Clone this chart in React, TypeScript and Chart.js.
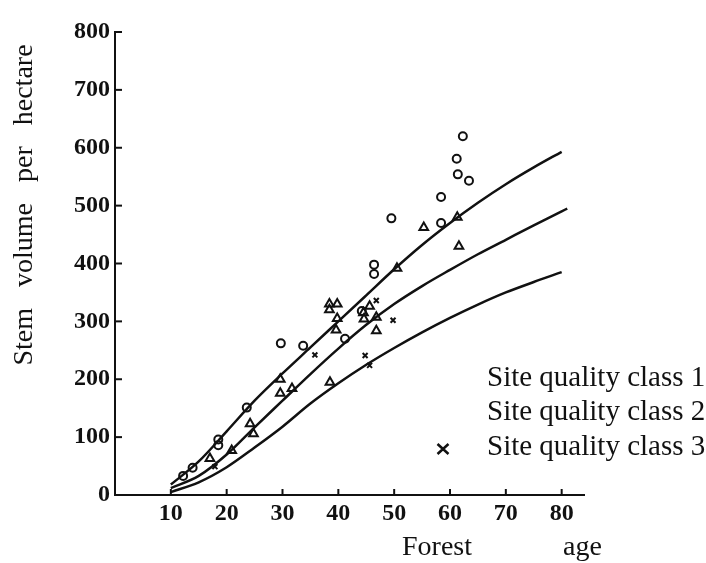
import React, { useEffect, useRef } from "react";
import { Chart, registerables } from "chart.js";

Chart.register(...registerables);

// ---------- data ----------
const xTickValues = [10, 20, 30, 40, 50, 60, 70, 80];
const yTickValues = [0, 100, 200, 300, 400, 500, 600, 700, 800];

const curveAges = [10, 15, 20, 25, 30, 35, 40, 45, 50, 55, 60, 65, 70, 75, 80];
const class1Curve = [18, 58, 110, 163, 210, 255, 300, 345, 390, 432, 470, 505, 537, 566, 593];
const class2Ages = [10, 15, 20, 25, 30, 35, 40, 45, 50, 55, 60, 65, 70, 75, 80, 81];
const class2Curve = [12, 33, 70, 117, 163, 209, 253, 294, 330, 361, 389, 416, 441, 466, 490, 495];
const class3Curve = [5, 22, 48, 82, 118, 158, 193, 225, 254, 281, 306, 329, 350, 368, 385];

const class1Ages = [12.2, 13.9, 18.5, 18.5, 23.6, 29.7, 33.7, 41.2, 44.2, 46.4, 46.4, 49.5, 58.4, 58.4, 61.2, 61.4, 62.3, 63.4];
const class1Vol = [33, 47, 96, 86, 151, 262, 258, 270, 318, 398, 382, 478, 515, 470, 581, 554, 620, 543];

const class2PtAges = [17, 20.9, 24.2, 24.8, 29.6, 29.6, 31.7, 38.4, 39.8, 38.4, 39.8, 39.6, 38.5, 44.6, 44.5, 45.6, 46.8, 46.8, 50.5, 55.3, 61.3, 61.6];
const class2PtVol = [63, 77, 123, 106, 200, 176, 184, 330, 330, 320, 305, 285, 195, 304, 315, 326, 307, 284, 392, 462, 480, 430];

const class3PtAges = [17.9, 35.8, 44.8, 45.6, 46.8, 49.8];
const class3PtVol = [49, 242, 241, 224, 336, 302];

const legendLabels = ["Site quality class 1", "Site quality class 2", "Site quality class 3"];
const xTitle = "Forest             age";
const yTitle = "Stem   volume   per   hectare";

const toPts = (xs: number[], ys: number[]) => xs.map((x, i) => ({ x, y: ys[i] }));

const SERIF = '"Liberation Serif", "Times New Roman", serif';

const decorPlugin = {
  id: "decor",
  afterDraw(chart: any) {
    const { ctx, scales, chartArea } = chart;
    const x = scales.x;
    const y = scales.y;
    ctx.save();
    ctx.strokeStyle = "#111";
    ctx.lineWidth = 2;
    xTickValues.forEach((v) => {
      const px = x.getPixelForValue(v);
      ctx.beginPath();
      ctx.moveTo(px, chartArea.bottom);
      ctx.lineTo(px, chartArea.bottom - 6);
      ctx.stroke();
    });
    yTickValues
      .filter((v) => v > 0)
      .forEach((v) => {
        const py = y.getPixelForValue(v);
        ctx.beginPath();
        ctx.moveTo(chartArea.left, py);
        ctx.lineTo(chartArea.left + 7, py);
        ctx.stroke();
      });

    ctx.fillStyle = "#111";
    ctx.font = "28px " + SERIF;
    ctx.textBaseline = "middle";
    ctx.textAlign = "left";
    ctx.fillText(xTitle, 402, 548);

    ctx.save();
    ctx.translate(25, 205);
    ctx.rotate(-Math.PI / 2);
    ctx.textAlign = "center";
    ctx.fillText(yTitle, 0, 0);
    ctx.restore();

    ctx.font = "29px " + SERIF;
    legendLabels.forEach((t, i) => {
      ctx.fillText(t, 487, 378 + i * 34.5);
    });
    // legend marker for class 3
    const mx = 443;
    const my = 378 + 2 * 34.5 + 2;
    ctx.lineWidth = 2.5;
    ctx.beginPath();
    ctx.moveTo(mx - 5.5, my - 5);
    ctx.lineTo(mx + 5.5, my + 5);
    ctx.moveTo(mx + 5.5, my - 5);
    ctx.lineTo(mx - 5.5, my + 5);
    ctx.stroke();
    ctx.restore();
  },
};

export default function App() {
  const ref = useRef<HTMLCanvasElement | null>(null);

  useEffect(() => {
    if (!ref.current) return;
    const lineDs = (label: string, xs: number[], ys: number[]) => ({
      label,
      data: toPts(xs, ys),
      showLine: true,
      borderColor: "#111",
      borderWidth: 2.5,
      pointRadius: 0,
      fill: false,
      cubicInterpolationMode: "monotone" as const,
    });
    const chart = new Chart(ref.current, {
      type: "scatter",
      data: {
        datasets: [
          lineDs("curve 1", curveAges, class1Curve),
          lineDs("curve 2", class2Ages, class2Curve),
          lineDs("curve 3", curveAges, class3Curve),
          {
            label: legendLabels[0],
            data: toPts(class1Ages, class1Vol),
            pointStyle: "circle",
            pointRadius: 4,
            borderColor: "#111",
            borderWidth: 2,
            backgroundColor: "rgba(0,0,0,0)",
          },
          {
            label: legendLabels[1],
            data: toPts(class2PtAges, class2PtVol),
            pointStyle: "triangle",
            pointRadius: 5,
            borderColor: "#111",
            borderWidth: 2,
            backgroundColor: "rgba(0,0,0,0)",
          },
          {
            label: legendLabels[2],
            data: toPts(class3PtAges, class3PtVol),
            pointStyle: "crossRot",
            pointRadius: 3.5,
            borderColor: "#111",
            borderWidth: 2,
          },
        ] as any,
      },
      options: {
        animation: false,
        responsive: true,
        maintainAspectRatio: false,
        layout: { padding: { top: 32, right: 122, left: 0, bottom: 0 } },
        plugins: { legend: { display: false }, tooltip: { enabled: false } },
        scales: {
          x: {
            type: "linear",
            min: 0,
            max: 84,
            afterFit: (s: any) => {
              s.height = 68;
            },
            afterBuildTicks: (s: any) => {
              s.ticks = xTickValues.map((v) => ({ value: v }));
            },
            grid: { display: false, drawTicks: false },
            border: { display: true, color: "#111", width: 2 },
            ticks: {
              padding: 4,
              color: "#111",
              font: { family: SERIF, size: 24, weight: "bold" },
              autoSkip: false,
              maxRotation: 0,
            },
          },
          y: {
            type: "linear",
            min: 0,
            max: 800,
            afterFit: (s: any) => {
              s.width = 115;
            },
            afterBuildTicks: (s: any) => {
              s.ticks = yTickValues.map((v) => ({ value: v }));
            },
            grid: { display: false, drawTicks: false },
            border: { display: true, color: "#111", width: 2 },
            ticks: {
              padding: 5,
              color: "#111",
              font: { family: SERIF, size: 24, weight: "bold" },
              autoSkip: false,
            },
          },
        },
      },
      plugins: [decorPlugin],
    });
    return () => chart.destroy();
  }, []);

  return (
    <div style={{ position: "fixed", left: 0, top: 0, width: 706, height: 563, background: "#fff" }}>
      <canvas ref={ref} />
    </div>
  );
}
